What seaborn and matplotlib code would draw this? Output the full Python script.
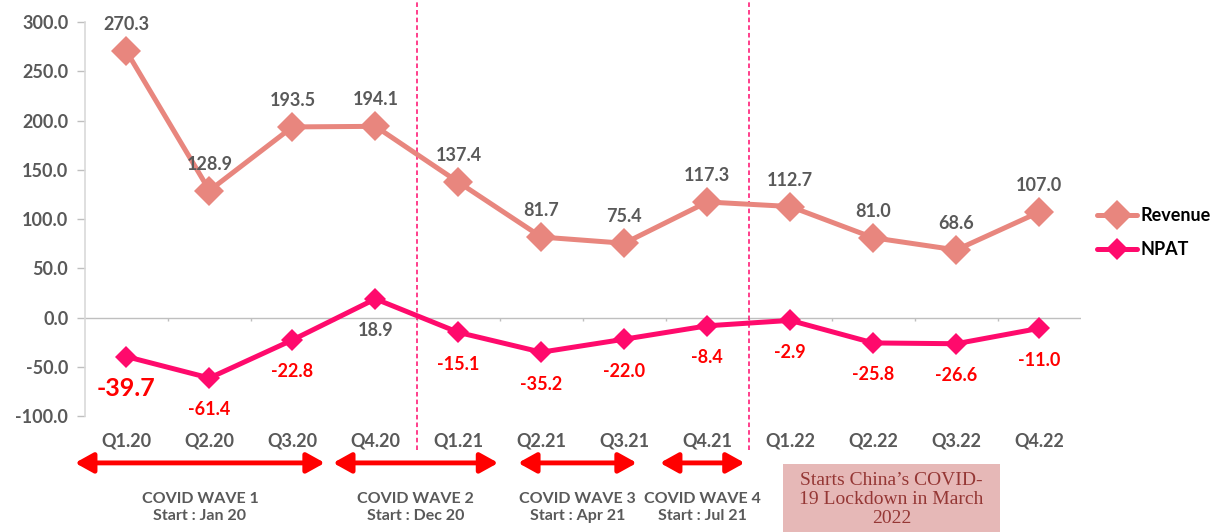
import numpy as np
import pandas as pd
import seaborn as sns
import matplotlib.pyplot as plt
from matplotlib.ticker import FuncFormatter, MultipleLocator
from matplotlib.patches import Rectangle

# chart data
quarters = ["Q1.20", "Q2.20", "Q3.20", "Q4.20", "Q1.21", "Q2.21",
            "Q3.21", "Q4.21", "Q1.22", "Q2.22", "Q3.22", "Q4.22"]
revenue = [270.3, 128.9, 193.5, 194.1, 137.4, 81.7, 75.4, 117.3, 112.7, 81.0, 68.6, 107.0]
npat = [-39.7, -61.4, -22.8, 18.9, -15.1, -35.2, -22.0, -8.4, -2.9, -25.8, -26.6, -11.0]

wave_labels = ["COVID WAVE 1\nStart : Jan 20", "COVID WAVE 2\nStart : Dec 20",
               "COVID WAVE 3\nStart : Apr 21", "COVID WAVE 4\nStart : Jul 21"]
wave_start = [-0.62, 2.49, 4.72, 6.43]
wave_end = [2.39, 4.48, 6.15, 7.45]
divider_pos = [3.5, 7.5]
lockdown_note = "Starts China\u2019s COVID-\n19 Lockdown in March\n2022"

sns.set_theme(style="white")
plt.rcParams["font.family"] = ["Lato", "DejaVu Sans"]

REV_COLOR = "#E8867E"
NPAT_COLOR = "#FF0A6C"
GREY = "#595959"

df = pd.DataFrame({"x": np.arange(len(quarters)), "Revenue": revenue, "NPAT": npat})

fig = plt.figure(figsize=(12.21, 5.32), dpi=100)
ax = fig.add_axes([0.0696, 0.218, 0.8155, 0.7406])

sns.lineplot(data=df, x="x", y="Revenue", ax=ax, color=REV_COLOR, linewidth=3.6,
             marker="D", markersize=15, markeredgewidth=0, label="Revenue", zorder=3)
sns.lineplot(data=df, x="x", y="NPAT", ax=ax, color=NPAT_COLOR, linewidth=3.6,
             marker="D", markersize=11, markeredgewidth=0, label="NPAT", zorder=3)

ax.set_xlim(-0.5, len(quarters) - 0.5)
ax.set_ylim(-100, 300)
ax.yaxis.set_major_locator(MultipleLocator(50))
ax.yaxis.set_major_formatter(FuncFormatter(lambda v, p: f"{v:.1f}"))
ax.set_xticks(df["x"])
ax.set_xticklabels(quarters)
ax.set_xlabel("")
ax.set_ylabel("")
ax.tick_params(axis="x", length=0, pad=12, labelsize=13, labelcolor=GREY)
ax.tick_params(axis="y", length=6, width=1, color="#BFBFBF", left=True,
               labelsize=13, labelcolor=GREY, pad=6)
for lab in ax.get_xticklabels() + ax.get_yticklabels():
    lab.set_fontweight("bold")

for s in ["top", "right", "bottom"]:
    ax.spines[s].set_visible(False)
ax.spines["left"].set_color("#D9D9D9")
ax.spines["left"].set_linewidth(1.2)

# zero line with small category separators
ax.axhline(0, color="#BFBFBF", linewidth=1, zorder=1)
ax.vlines(np.arange(0.5, len(quarters) - 1, 1), -4, 0, color="#BFBFBF", linewidth=1, zorder=1)

# dashed dividers
for xd in divider_pos:
    ax.axvline(xd, ymin=-0.085, ymax=1.056, color=NPAT_COLOR, linestyle=(0, (3, 2)),
               linewidth=1.1, clip_on=False, zorder=2)

# value labels
for i, v in enumerate(revenue):
    ax.annotate(f"{v:.1f}", (i, v), xytext=(0, 19), textcoords="offset points",
                ha="center", va="center", fontsize=13, fontweight="bold", color=GREY)
for i, v in enumerate(npat):
    if v > 0:
        col, fs = GREY, 13
    else:
        col, fs = "#FF0000", 13
    if i == 0:
        fs = 18
    ax.annotate(f"{v:.1f}", (i, v), xytext=(0, -23), textcoords="offset points",
                ha="center", va="center", fontsize=fs, fontweight="bold", color=col)

# covid wave arrows
for lab, a, b in zip(wave_labels, wave_start, wave_end):
    ax.annotate("", xy=(b, -0.119), xytext=(a, -0.119),
                xycoords=("data", "axes fraction"), textcoords=("data", "axes fraction"),
                arrowprops=dict(arrowstyle="<|-|>,head_length=0.9,head_width=0.5",
                                color="#FF0000", linewidth=3.5, shrinkA=0, shrinkB=0),
                annotation_clip=False)
    ax.text((a + b) / 2, -0.232, lab, transform=ax.get_xaxis_transform(),
            ha="center", va="center", fontsize=11.5, fontweight="bold", color=GREY,
            linespacing=1.3, clip_on=False)

# lockdown note box
fig.patches.append(Rectangle((0.641, 0.0), 0.178, 0.127, transform=fig.transFigure,
                             facecolor="#E6B8B7", edgecolor="none", zorder=0))
fig.text(0.730, 0.061, lockdown_note, ha="center", va="center", fontsize=14,
         family="Liberation Serif", color="#953735", linespacing=1.15)

leg = ax.legend(loc="center left", bbox_to_anchor=(1.0, 0.466), frameon=False,
                handlelength=2.2, handletextpad=0.2, labelspacing=0.95,
                prop={"size": 13, "weight": "bold"})
for t in leg.get_texts():
    t.set_color("#000000")

fig.savefig("out.png", dpi=100)
